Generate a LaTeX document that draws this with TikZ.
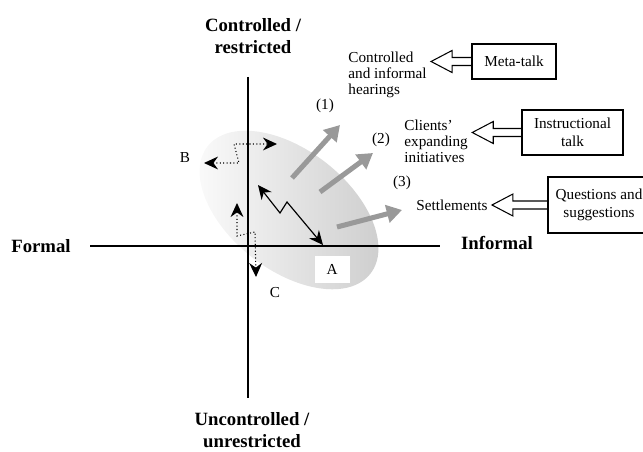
\documentclass[tikz,border=0pt]{standalone}
\usepackage{fontspec}
\setmainfont{Liberation Serif}
\usepackage{tikz}
\usetikzlibrary{calc}
\usetikzlibrary{arrows.meta}
\tikzset{>=latex}
\tikzset{axis/.style = {line width=1.1pt}}
\tikzset{axlabel/.style = {font=\fontsize{16}{19}\selectfont\bfseries, align=center, inner sep=1pt}}
\tikzset{txt/.style = {font=\fontsize{13}{13.8}\selectfont, align=left, inner sep=1pt}}
\tikzset{tbox/.style = {draw, line width=1.1pt, font=\fontsize{13}{15}\selectfont, align=center, inner sep=2pt}}
\tikzset{openarr/.style = {line width=0.9pt, line join=miter}}
\tikzset{greyarr/.style = {draw=black!40, line width=4.3pt, -{Triangle[length=13pt,width=15pt]}}}
\tikzset{zig/.style = {line width=1pt, {Stealth[length=12pt,width=11pt,inset=4pt]}-{Stealth[length=12pt,width=11pt,inset=4pt]}}}
\tikzset{dots/.style = {line width=0.9pt, dotted, {Stealth[length=12pt,width=11pt,inset=4pt]}-{Stealth[length=12pt,width=11pt,inset=4pt]}}}
\newcommand\openarrow[2]{%
  \coordinate (tip) at ($(#2.east |- #1.west)+(3,0)$);
  \draw[openarr] ($(#1.west)+(0,-4)$) -- ($(tip)+(21,-4)$) -- ($(tip)+(21,-11)$) -- (tip)
    -- ($(tip)+(21,11)$) -- ($(tip)+(21,4)$) -- ($(#1.west)+(0,4)$);}

\begin{document}
\begin{tikzpicture}[x=0.03cm, y=-0.03cm]
                    \useasboundingbox (0,0) rectangle (643,452);

                    \shade[left color=black!1, right color=black!20, rotate around={-38:(289,210)}]
                        (289,210) ellipse [x radius=3.1cm, y radius=1.8cm];

                    \node[axlabel] (ctrl) at (253,36) {Controlled /\\restricted};
                    \node[axlabel] (unctrl) at (252,430) {Uncontrolled /\\unrestricted};
                    \node[axlabel] (formal) at (41,246) {Formal};
                    \node[axlabel] (informal) at (497,243) {Informal};

                    \coordinate (ytop) at (248,77);
                    \coordinate (ybot) at (248,398);
                    \coordinate (xleft) at (90,246);
                    \coordinate (xright) at (440,246);
                    \draw[axis] (ytop) -- (ybot);
                    \draw[axis] (xleft) -- (xright);

                    \node[txt] (B) at (185,158) {B};
                    \node[txt] (C) at (275,293) {C};
                    \node[txt, fill=white, minimum width=1.05cm, minimum height=0.81cm] (A) at (332,269) {A};

                    \node[txt] (n1) at (325,106) {(1)};
                    \node[txt] (n2) at (381,140) {(2)};
                    \node[txt] (n3) at (402,183) {(3)};

                    \node[txt, anchor=west] (hear) at (347,75) {Controlled\\and informal\\hearings};
                    \node[txt, anchor=west] (init) at (403,141) {Clients'\\expanding\\initiatives};
                    \node[txt] (settle) at (452,205) {Settlements};

                    \node[tbox, minimum width=2.52cm, minimum height=1.05cm] (meta) at (514,61.5) {Meta-talk};
                    \node[tbox, minimum width=3.03cm, minimum height=1.35cm] (instr) at (572.5,132.5) {Instructional\\talk};
                    \node[tbox, minimum width=3.06cm, minimum height=1.68cm] (quest) at (599,205) {Questions and\\suggestions};

                    \openarrow{meta}{hear}
                    \openarrow{instr}{init}
                    \openarrow{quest}{settle}

                    \coordinate (g1s) at (292,178);
                    \coordinate (g1e) at (340,125);
                    \coordinate (g2s) at (320,192);
                    \coordinate (g2e) at (373,153);
                    \coordinate (g3s) at (337,227);
                    \coordinate (g3e) at (402,210);
                    \draw[greyarr] (g1s) -- (g1e);
                    \draw[greyarr] (g2s) -- (g2e);
                    \draw[greyarr] (g3s) -- (g3e);

                    \coordinate (z1) at (258,185);
                    \coordinate (z2) at (280,213);
                    \coordinate (z3) at (287,202);
                    \coordinate (z4) at (323,245);
                    \draw[zig] (z1) -- (z2) -- (z3) -- (z4);

                    \coordinate (b1) at (204,163);
                    \coordinate (b2) at (239,163);
                    \coordinate (b3) at (234,144);
                    \coordinate (b4) at (277,144);
                    \draw[dots] (b1) -- (b2) -- (b3) -- (b4);

                    \coordinate (c1) at (237,203);
                    \coordinate (c2) at (237,236);
                    \coordinate (c3) at (255,232);
                    \coordinate (c4) at (256,277);
                    \draw[dots] (c1) -- (c2) -- (c3) -- (c4);
                \end{tikzpicture}
\end{document}
